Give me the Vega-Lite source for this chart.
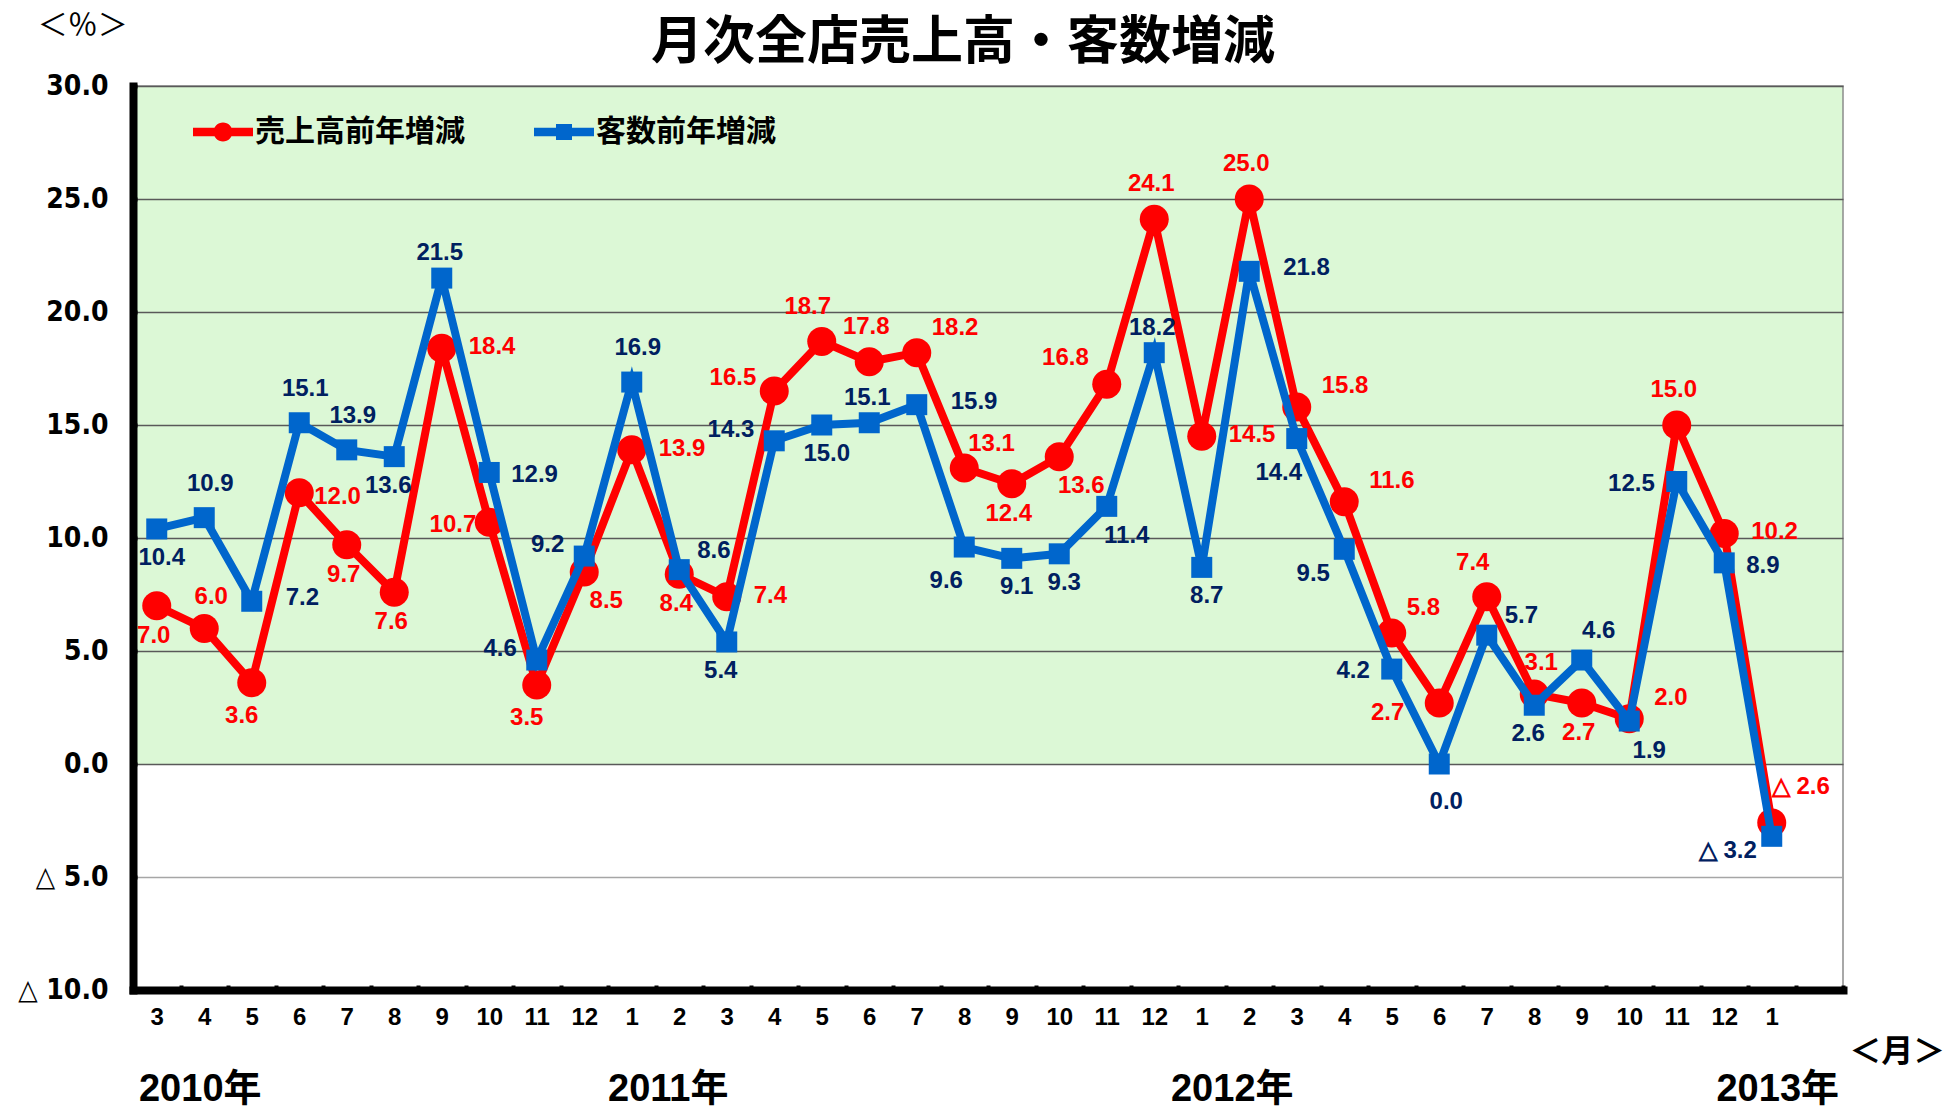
{
  "$schema": "https://vega.github.io/schema/vega-lite/v6.json",
  "width": 1710,
  "height": 904,
  "autosize": {"type": "none"},
  "padding": {"left": 133, "top": 86, "right": 105, "bottom": 119},
  "background": "white",
  "title": {"text": "月次全店売上高・客数増減", "font": "Noto Sans CJK JP", "fontSize": 52, "fontWeight": "bold", "color": "black", "anchor": "middle", "frame": "group", "dx": -25, "offset": -59},
  "data": {"values": [
    {"m": "2010-03", "s": 7.0, "c": 10.4},
    {"m": "2010-04", "s": 6.0, "c": 10.9},
    {"m": "2010-05", "s": 3.6, "c": 7.2},
    {"m": "2010-06", "s": 12.0, "c": 15.1},
    {"m": "2010-07", "s": 9.7, "c": 13.9},
    {"m": "2010-08", "s": 7.6, "c": 13.6},
    {"m": "2010-09", "s": 18.4, "c": 21.5},
    {"m": "2010-10", "s": 10.7, "c": 12.9},
    {"m": "2010-11", "s": 3.5, "c": 4.6},
    {"m": "2010-12", "s": 8.5, "c": 9.2},
    {"m": "2011-01", "s": 13.9, "c": 16.9},
    {"m": "2011-02", "s": 8.4, "c": 8.6},
    {"m": "2011-03", "s": 7.4, "c": 5.4},
    {"m": "2011-04", "s": 16.5, "c": 14.3},
    {"m": "2011-05", "s": 18.7, "c": 15.0},
    {"m": "2011-06", "s": 17.8, "c": 15.1},
    {"m": "2011-07", "s": 18.2, "c": 15.9},
    {"m": "2011-08", "s": 13.1, "c": 9.6},
    {"m": "2011-09", "s": 12.4, "c": 9.1},
    {"m": "2011-10", "s": 13.6, "c": 9.3},
    {"m": "2011-11", "s": 16.8, "c": 11.4},
    {"m": "2011-12", "s": 24.1, "c": 18.2},
    {"m": "2012-01", "s": 14.5, "c": 8.7},
    {"m": "2012-02", "s": 25.0, "c": 21.8},
    {"m": "2012-03", "s": 15.8, "c": 14.4},
    {"m": "2012-04", "s": 11.6, "c": 9.5},
    {"m": "2012-05", "s": 5.8, "c": 4.2},
    {"m": "2012-06", "s": 2.7, "c": 0.0},
    {"m": "2012-07", "s": 7.4, "c": 5.7},
    {"m": "2012-08", "s": 3.1, "c": 2.6},
    {"m": "2012-09", "s": 2.7, "c": 4.6},
    {"m": "2012-10", "s": 2.0, "c": 1.9},
    {"m": "2012-11", "s": 15.0, "c": 12.5},
    {"m": "2012-12", "s": 10.2, "c": 8.9},
    {"m": "2013-01", "s": -2.6, "c": -3.2}
  ]},
  "transform": [
    {"calculate": "datum.s < 0 ? '△ ' + format(-datum.s, '.1f') : format(datum.s, '.1f')", "as": "sl"},
    {"calculate": "datum.c < 0 ? '△ ' + format(-datum.c, '.1f') : format(datum.c, '.1f')", "as": "cl"}
  ],
  "layer": [
    {
      "mark": {"type": "line", "strokeWidth": 8},
      "encoding": {
        "x": {"field": "m", "type": "ordinal", "bandPosition": 0.5, "title": null,
          "scale": {"type": "band", "paddingInner": 0, "paddingOuter": 0, "domain": ["2010-03","2010-04","2010-05","2010-06","2010-07","2010-08","2010-09","2010-10","2010-11","2010-12","2011-01","2011-02","2011-03","2011-04","2011-05","2011-06","2011-07","2011-08","2011-09","2011-10","2011-11","2011-12","2012-01","2012-02","2012-03","2012-04","2012-05","2012-06","2012-07","2012-08","2012-09","2012-10","2012-11","2012-12","2013-01","2013-02"]},
          "axis": {"labelExpr": "isString(datum.value) && datum.value !== '2013-02' ? '' + toNumber(slice(datum.value, 5)) : ''"}},
        "y": {"field": "s", "type": "quantitative", "title": null,
          "scale": {"domain": [-10, 30], "nice": false, "zero": false},
          "axis": {"values": [-10, -5, 0, 5, 10, 15, 20, 25, 30],
            "labelExpr": "isNumber(datum.value) ? (datum.value < 0 ? '△ ' + format(-datum.value, '.1f') : format(datum.value, '.1f')) : ''",
            "gridColor": {"condition": {"test": "datum.value < 0", "value": "#a6a6a6"}, "value": "#595959"}}},
        "color": {"datum": "売上高前年増減", "type": "nominal",
          "scale": {"domain": ["売上高前年増減", "客数前年増減"], "range": ["#ff0000", "#0066cc"]},
          "legend": {"title": null, "orient": "none", "legendX": 60, "legendY": 16, "direction": "horizontal", "padding": 0,
            "symbolSize": 3600, "symbolStrokeWidth": 0, "labelFont": "Noto Sans CJK JP", "labelFontSize": 30, "labelFontWeight": "bold",
            "labelColor": "black", "labelOffset": 2, "columnPadding": 69, "labelLimit": 400,
            "encode": {"symbols": {"update": {
              "shape": {"signal": "datum.value === '売上高前年増減' ? 'M-1,-0.14H1V0.14H-1ZM-0.317,0A0.317,0.317 0 1,1 0.317,0A0.317,0.317 0 1,1 -0.317,0Z' : 'M-1,-0.14H1V0.14H-1ZM-0.267,-0.267H0.267V0.267H-0.267Z'"},
              "fill": {"signal": "scale('color', datum.value)"},
              "stroke": {"value": "transparent"},
              "strokeWidth": {"value": 0},
              "opacity": {"value": 1}}}}}}
      }
    },
    {
      "mark": {"type": "point", "shape": "circle", "filled": true, "size": 841, "color": "#ff0000", "opacity": 1},
      "encoding": {
        "x": {"field": "m", "type": "ordinal", "bandPosition": 0.5, "title": null},
        "y": {"field": "s", "type": "quantitative", "title": null}
      }
    },
    {
      "mark": {"type": "line", "strokeWidth": 8},
      "encoding": {
        "x": {"field": "m", "type": "ordinal", "bandPosition": 0.5, "title": null},
        "y": {"field": "c", "type": "quantitative", "title": null},
        "color": {"datum": "客数前年増減", "type": "nominal"}
      }
    },
    {
      "mark": {"type": "point", "shape": "square", "filled": true, "size": 441, "color": "#0066cc", "opacity": 1},
      "encoding": {
        "x": {"field": "m", "type": "ordinal", "bandPosition": 0.5, "title": null},
        "y": {"field": "c", "type": "quantitative", "title": null}
      }
    },

    {"transform": [{"filter": {"field": "m", "oneOf": ["2011-06","2011-12","2012-02","2012-11"]}}],
     "mark": {"type": "text", "align": "center", "dx": -3, "dy": -35, "color": "#ff0000"},
     "encoding": {"x": {"field": "m", "type": "ordinal", "bandPosition": 0.5, "title": null}, "y": {"field": "s", "type": "quantitative", "title": null}, "text": {"field": "sl"}}},
    {"transform": [{"filter": {"field": "m", "oneOf": ["2010-04","2012-08"]}}],
     "mark": {"type": "text", "align": "center", "dx": 7, "dy": -31, "color": "#ff0000"},
     "encoding": {"x": {"field": "m", "type": "ordinal", "bandPosition": 0.5, "title": null}, "y": {"field": "s", "type": "quantitative", "title": null}, "text": {"field": "sl"}}},
    {"transform": [{"filter": {"field": "m", "oneOf": ["2011-05","2012-07"]}}],
     "mark": {"type": "text", "align": "center", "dx": -14, "dy": -34, "color": "#ff0000"},
     "encoding": {"x": {"field": "m", "type": "ordinal", "bandPosition": 0.5, "title": null}, "y": {"field": "s", "type": "quantitative", "title": null}, "text": {"field": "sl"}}},
    {"transform": [{"filter": {"field": "m", "oneOf": ["2010-03","2010-07","2010-08","2011-02","2011-09","2012-09"]}}],
     "mark": {"type": "text", "align": "center", "dx": -3, "dy": 30, "color": "#ff0000"},
     "encoding": {"x": {"field": "m", "type": "ordinal", "bandPosition": 0.5, "title": null}, "y": {"field": "s", "type": "quantitative", "title": null}, "text": {"field": "sl"}}},
    {"transform": [{"filter": {"field": "m", "oneOf": ["2010-05","2010-11"]}}],
     "mark": {"type": "text", "align": "center", "dx": -10, "dy": 33, "color": "#ff0000"},
     "encoding": {"x": {"field": "m", "type": "ordinal", "bandPosition": 0.5, "title": null}, "y": {"field": "s", "type": "quantitative", "title": null}, "text": {"field": "sl"}}},
    {"transform": [{"filter": {"field": "m", "oneOf": ["2010-12","2011-10"]}}],
     "mark": {"type": "text", "align": "center", "dx": 22, "dy": 29, "color": "#ff0000"},
     "encoding": {"x": {"field": "m", "type": "ordinal", "bandPosition": 0.5, "title": null}, "y": {"field": "s", "type": "quantitative", "title": null}, "text": {"field": "sl"}}},
    {"transform": [{"filter": {"field": "m", "oneOf": ["2010-09","2011-01","2011-03","2012-01","2012-12"]}}],
     "mark": {"type": "text", "align": "left", "dx": 27, "dy": -1, "color": "#ff0000"},
     "encoding": {"x": {"field": "m", "type": "ordinal", "bandPosition": 0.5, "title": null}, "y": {"field": "s", "type": "quantitative", "title": null}, "text": {"field": "sl"}}},
    {"transform": [{"filter": {"field": "m", "oneOf": ["2010-06"]}}],
     "mark": {"type": "text", "align": "left", "dx": 15, "dy": 4, "color": "#ff0000"},
     "encoding": {"x": {"field": "m", "type": "ordinal", "bandPosition": 0.5, "title": null}, "y": {"field": "s", "type": "quantitative", "title": null}, "text": {"field": "sl"}}},
    {"transform": [{"filter": {"field": "m", "oneOf": ["2012-03","2012-04","2012-10"]}}],
     "mark": {"type": "text", "align": "left", "dx": 25, "dy": -21, "color": "#ff0000"},
     "encoding": {"x": {"field": "m", "type": "ordinal", "bandPosition": 0.5, "title": null}, "y": {"field": "s", "type": "quantitative", "title": null}, "text": {"field": "sl"}}},
    {"transform": [{"filter": {"field": "m", "oneOf": ["2011-07","2012-05"]}}],
     "mark": {"type": "text", "align": "left", "dx": 15, "dy": -25, "color": "#ff0000"},
     "encoding": {"x": {"field": "m", "type": "ordinal", "bandPosition": 0.5, "title": null}, "y": {"field": "s", "type": "quantitative", "title": null}, "text": {"field": "sl"}}},
    {"transform": [{"filter": {"field": "m", "oneOf": ["2011-08"]}}],
     "mark": {"type": "text", "align": "left", "dx": 4, "dy": -24, "color": "#ff0000"},
     "encoding": {"x": {"field": "m", "type": "ordinal", "bandPosition": 0.5, "title": null}, "y": {"field": "s", "type": "quantitative", "title": null}, "text": {"field": "sl"}}},
    {"transform": [{"filter": {"field": "m", "oneOf": ["2013-01"]}}],
     "mark": {"type": "text", "align": "left", "dx": 0, "dy": -36, "color": "#ff0000"},
     "encoding": {"x": {"field": "m", "type": "ordinal", "bandPosition": 0.5, "title": null}, "y": {"field": "s", "type": "quantitative", "title": null}, "text": {"field": "sl"}}},
    {"transform": [{"filter": {"field": "m", "oneOf": ["2010-10"]}}],
     "mark": {"type": "text", "align": "right", "dx": -13, "dy": 3, "color": "#ff0000"},
     "encoding": {"x": {"field": "m", "type": "ordinal", "bandPosition": 0.5, "title": null}, "y": {"field": "s", "type": "quantitative", "title": null}, "text": {"field": "sl"}}},
    {"transform": [{"filter": {"field": "m", "oneOf": ["2011-04"]}}],
     "mark": {"type": "text", "align": "right", "dx": -18, "dy": -13, "color": "#ff0000"},
     "encoding": {"x": {"field": "m", "type": "ordinal", "bandPosition": 0.5, "title": null}, "y": {"field": "s", "type": "quantitative", "title": null}, "text": {"field": "sl"}}},
    {"transform": [{"filter": {"field": "m", "oneOf": ["2011-11"]}}],
     "mark": {"type": "text", "align": "right", "dx": -18, "dy": -26, "color": "#ff0000"},
     "encoding": {"x": {"field": "m", "type": "ordinal", "bandPosition": 0.5, "title": null}, "y": {"field": "s", "type": "quantitative", "title": null}, "text": {"field": "sl"}}},
    {"transform": [{"filter": {"field": "m", "oneOf": ["2012-06"]}}],
     "mark": {"type": "text", "align": "right", "dx": -35, "dy": 10, "color": "#ff0000"},
     "encoding": {"x": {"field": "m", "type": "ordinal", "bandPosition": 0.5, "title": null}, "y": {"field": "s", "type": "quantitative", "title": null}, "text": {"field": "sl"}}},

    {"transform": [{"filter": {"field": "m", "oneOf": ["2010-04","2010-06","2010-07","2011-01"]}}],
     "mark": {"type": "text", "align": "center", "dx": 6, "dy": -34, "color": "#002060"},
     "encoding": {"x": {"field": "m", "type": "ordinal", "bandPosition": 0.5, "title": null}, "y": {"field": "c", "type": "quantitative", "title": null}, "text": {"field": "cl"}}},
    {"transform": [{"filter": {"field": "m", "oneOf": ["2010-09","2011-06","2011-12"]}}],
     "mark": {"type": "text", "align": "center", "dx": -2, "dy": -25, "color": "#002060"},
     "encoding": {"x": {"field": "m", "type": "ordinal", "bandPosition": 0.5, "title": null}, "y": {"field": "c", "type": "quantitative", "title": null}, "text": {"field": "cl"}}},
    {"transform": [{"filter": {"field": "m", "oneOf": ["2012-09"]}}],
     "mark": {"type": "text", "align": "center", "dx": 17, "dy": -29, "color": "#002060"},
     "encoding": {"x": {"field": "m", "type": "ordinal", "bandPosition": 0.5, "title": null}, "y": {"field": "c", "type": "quantitative", "title": null}, "text": {"field": "cl"}}},
    {"transform": [{"filter": {"field": "m", "oneOf": ["2010-03","2011-05","2011-09","2011-10","2012-01"]}}],
     "mark": {"type": "text", "align": "center", "dx": 5, "dy": 29, "color": "#002060"},
     "encoding": {"x": {"field": "m", "type": "ordinal", "bandPosition": 0.5, "title": null}, "y": {"field": "c", "type": "quantitative", "title": null}, "text": {"field": "cl"}}},
    {"transform": [{"filter": {"field": "m", "oneOf": ["2010-08","2011-03","2012-08"]}}],
     "mark": {"type": "text", "align": "center", "dx": -6, "dy": 29, "color": "#002060"},
     "encoding": {"x": {"field": "m", "type": "ordinal", "bandPosition": 0.5, "title": null}, "y": {"field": "c", "type": "quantitative", "title": null}, "text": {"field": "cl"}}},
    {"transform": [{"filter": {"field": "m", "oneOf": ["2012-06"]}}],
     "mark": {"type": "text", "align": "center", "dx": 7, "dy": 38, "color": "#002060"},
     "encoding": {"x": {"field": "m", "type": "ordinal", "bandPosition": 0.5, "title": null}, "y": {"field": "c", "type": "quantitative", "title": null}, "text": {"field": "cl"}}},
    {"transform": [{"filter": {"field": "m", "oneOf": ["2011-11","2012-10"]}}],
     "mark": {"type": "text", "align": "center", "dx": 20, "dy": 30, "color": "#002060"},
     "encoding": {"x": {"field": "m", "type": "ordinal", "bandPosition": 0.5, "title": null}, "y": {"field": "c", "type": "quantitative", "title": null}, "text": {"field": "cl"}}},
    {"transform": [{"filter": {"field": "m", "oneOf": ["2011-08","2012-03"]}}],
     "mark": {"type": "text", "align": "center", "dx": -18, "dy": 34, "color": "#002060"},
     "encoding": {"x": {"field": "m", "type": "ordinal", "bandPosition": 0.5, "title": null}, "y": {"field": "c", "type": "quantitative", "title": null}, "text": {"field": "cl"}}},
    {"transform": [{"filter": {"field": "m", "oneOf": ["2012-04"]}}],
     "mark": {"type": "text", "align": "center", "dx": -31, "dy": 25, "color": "#002060"},
     "encoding": {"x": {"field": "m", "type": "ordinal", "bandPosition": 0.5, "title": null}, "y": {"field": "c", "type": "quantitative", "title": null}, "text": {"field": "cl"}}},
    {"transform": [{"filter": {"field": "m", "oneOf": ["2010-05","2011-07","2012-02"]}}],
     "mark": {"type": "text", "align": "left", "dx": 34, "dy": -3, "color": "#002060"},
     "encoding": {"x": {"field": "m", "type": "ordinal", "bandPosition": 0.5, "title": null}, "y": {"field": "c", "type": "quantitative", "title": null}, "text": {"field": "cl"}}},
    {"transform": [{"filter": {"field": "m", "oneOf": ["2010-10","2012-12"]}}],
     "mark": {"type": "text", "align": "left", "dx": 22, "dy": 3, "color": "#002060"},
     "encoding": {"x": {"field": "m", "type": "ordinal", "bandPosition": 0.5, "title": null}, "y": {"field": "c", "type": "quantitative", "title": null}, "text": {"field": "cl"}}},
    {"transform": [{"filter": {"field": "m", "oneOf": ["2011-02","2012-07"]}}],
     "mark": {"type": "text", "align": "left", "dx": 18, "dy": -19, "color": "#002060"},
     "encoding": {"x": {"field": "m", "type": "ordinal", "bandPosition": 0.5, "title": null}, "y": {"field": "c", "type": "quantitative", "title": null}, "text": {"field": "cl"}}},
    {"transform": [{"filter": {"field": "m", "oneOf": ["2010-11","2010-12","2011-04"]}}],
     "mark": {"type": "text", "align": "right", "dx": -20, "dy": -11, "color": "#002060"},
     "encoding": {"x": {"field": "m", "type": "ordinal", "bandPosition": 0.5, "title": null}, "y": {"field": "c", "type": "quantitative", "title": null}, "text": {"field": "cl"}}},
    {"transform": [{"filter": {"field": "m", "oneOf": ["2012-05","2012-11"]}}],
     "mark": {"type": "text", "align": "right", "dx": -22, "dy": 2, "color": "#002060"},
     "encoding": {"x": {"field": "m", "type": "ordinal", "bandPosition": 0.5, "title": null}, "y": {"field": "c", "type": "quantitative", "title": null}, "text": {"field": "cl"}}},
    {"transform": [{"filter": {"field": "m", "oneOf": ["2013-01"]}}],
     "mark": {"type": "text", "align": "right", "dx": -15, "dy": 15, "color": "#002060"},
     "encoding": {"x": {"field": "m", "type": "ordinal", "bandPosition": 0.5, "title": null}, "y": {"field": "c", "type": "quantitative", "title": null}, "text": {"field": "cl"}}},

    {"data": {"values": [{}]},
     "mark": {"type": "text", "text": "2010年", "fontSize": 38, "fontWeight": "bold", "font": "Liberation Sans, Noto Sans CJK JP", "color": "black", "dx": -4, "dy": 100},
     "encoding": {"x": {"datum": "2010-04", "type": "ordinal", "bandPosition": 0.5, "title": null}, "y": {"datum": -10, "type": "quantitative", "title": null}}},
    {"data": {"values": [{}]},
     "mark": {"type": "text", "text": "2011年", "fontSize": 38, "fontWeight": "bold", "font": "Liberation Sans, Noto Sans CJK JP", "color": "black", "dx": -11, "dy": 100},
     "encoding": {"x": {"datum": "2011-02", "type": "ordinal", "bandPosition": 0.5, "title": null}, "y": {"datum": -10, "type": "quantitative", "title": null}}},
    {"data": {"values": [{}]},
     "mark": {"type": "text", "text": "2012年", "fontSize": 38, "fontWeight": "bold", "font": "Liberation Sans, Noto Sans CJK JP", "color": "black", "dx": -17, "dy": 100},
     "encoding": {"x": {"datum": "2012-02", "type": "ordinal", "bandPosition": 0.5, "title": null}, "y": {"datum": -10, "type": "quantitative", "title": null}}},
    {"data": {"values": [{}]},
     "mark": {"type": "text", "text": "2013年", "fontSize": 38, "fontWeight": "bold", "font": "Liberation Sans, Noto Sans CJK JP", "color": "black", "dx": 6, "dy": 100},
     "encoding": {"x": {"datum": "2013-01", "type": "ordinal", "bandPosition": 0.5, "title": null}, "y": {"datum": -10, "type": "quantitative", "title": null}}},
    {"data": {"values": [{}]},
     "mark": {"type": "text", "text": "＜月＞", "fontSize": 32, "fontWeight": "bold", "font": "Noto Sans CJK JP", "color": "black", "dx": 78, "dy": 62},
     "encoding": {"x": {"datum": "2013-02", "type": "ordinal", "bandPosition": 0.5, "title": null}, "y": {"datum": -10, "type": "quantitative", "title": null}}},
    {"data": {"values": [{}]},
     "mark": {"type": "text", "text": "＜％＞", "fontSize": 30, "fontWeight": "normal", "font": "Noto Sans CJK JP", "color": "black", "dx": -74, "dy": -60},
     "encoding": {"x": {"datum": "2010-03", "type": "ordinal", "bandPosition": 0.5, "title": null}, "y": {"datum": 30, "type": "quantitative", "title": null}}}
  ],
  "config": {
    "font": "Liberation Sans",
    "view": {"stroke": "#8c8c8c", "strokeWidth": 1.5,
      "fill": {"gradient": "linear", "x1": 0, "y1": 0, "x2": 0, "y2": 1,
        "stops": [{"offset": 0, "color": "#dcf8d6"}, {"offset": 0.75, "color": "#dcf8d6"}, {"offset": 0.75, "color": "#ffffff"}, {"offset": 1, "color": "#ffffff"}]}},
    "text": {"font": "Liberation Sans", "fontSize": 24, "fontWeight": "bold", "baseline": "middle"},
    "axisX": {"domainColor": "black", "domainWidth": 8, "domainCap": "square", "tickColor": "black", "tickWidth": 4, "tickSize": -5, "tickBand": "extent",
      "labelFont": "Liberation Sans", "labelFontSize": 24, "labelFontWeight": "bold", "labelColor": "black", "labelPadding": 20, "labelAngle": 0, "grid": false},
    "axisY": {"domainColor": "black", "domainWidth": 8, "domainCap": "square", "tickColor": "black", "tickWidth": 4, "tickSize": -4,
      "labelFont": "Liberation Sans Narrow, DejaVu Sans Condensed, Liberation Sans", "labelFontSize": 28, "labelFontWeight": "bold", "labelColor": "black", "labelPadding": 29,
      "grid": true, "gridWidth": 1.5}
  }
}
